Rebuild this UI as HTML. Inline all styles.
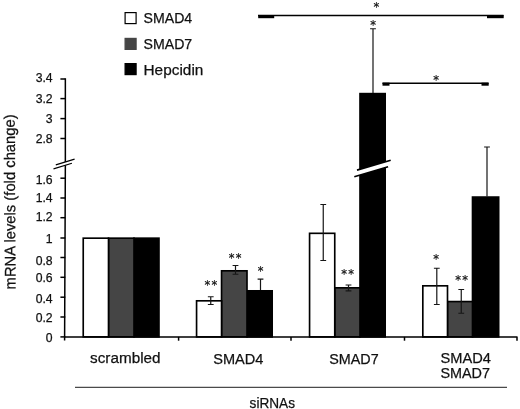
<!DOCTYPE html>
<html lang="en"><head><meta charset="utf-8"><title>mRNA levels (fold change) - siRNAs</title>
<style>html,body{margin:0;padding:0;background:#fff;}body{width:520px;height:409px;overflow:hidden;}svg{display:block;filter:grayscale(1);}text{font-family:"Liberation Sans", sans-serif;fill:#111;stroke:#111;stroke-width:0.25px;}.star{font-family:"DejaVu Sans", "Liberation Sans", sans-serif;fill:#111;stroke-width:0.2px;}</style></head><body>
<svg width="520" height="409" viewBox="0 0 520 409">
<rect x="0" y="0" width="520" height="409" fill="#fff"/>
<rect x="134.00" y="238.17" width="24.98" height="98.72" fill="#000" stroke="#000" stroke-width="1.65"/>
<rect x="108.50" y="238.17" width="25.50" height="98.72" fill="#454545" stroke="#000" stroke-width="1.65"/>
<rect x="83.23" y="238.17" width="25.27" height="98.72" fill="#fff" stroke="#000" stroke-width="1.65"/>
<rect x="247.00" y="290.82" width="25.18" height="46.07" fill="#000" stroke="#000" stroke-width="1.65"/>
<rect x="221.55" y="270.82" width="25.45" height="66.07" fill="#454545" stroke="#000" stroke-width="1.65"/>
<rect x="196.57" y="300.82" width="24.98" height="36.07" fill="#fff" stroke="#000" stroke-width="1.65"/>
<rect x="360.00" y="93.62" width="25.18" height="243.27" fill="#000" stroke="#000" stroke-width="1.65"/>
<rect x="334.75" y="287.82" width="25.25" height="49.07" fill="#454545" stroke="#000" stroke-width="1.65"/>
<rect x="309.57" y="233.32" width="25.18" height="103.57" fill="#fff" stroke="#000" stroke-width="1.65"/>
<rect x="472.50" y="197.07" width="26.18" height="139.82" fill="#000" stroke="#000" stroke-width="1.65"/>
<rect x="447.50" y="301.57" width="25.00" height="35.32" fill="#454545" stroke="#000" stroke-width="1.65"/>
<rect x="422.82" y="285.82" width="24.68" height="51.07" fill="#fff" stroke="#000" stroke-width="1.65"/>
<path d="M210.75 296.75V304.50M207.85 296.75H213.65M207.85 304.50H213.65" fill="none" stroke="#161616" stroke-width="1.2"/>
<path d="M235.50 265.50V274.25M232.60 265.50H238.40M232.60 274.25H238.40" fill="none" stroke="#161616" stroke-width="1.2"/>
<path d="M260.50 279.20V290.00M257.60 279.20H263.40" fill="none" stroke="#161616" stroke-width="1.2"/>
<path d="M323.25 204.50V260.50M320.35 204.50H326.15M320.35 260.50H326.15" fill="none" stroke="#161616" stroke-width="1.2"/>
<path d="M348.50 285.00V290.90M345.60 285.00H351.40M345.60 290.90H351.40" fill="none" stroke="#161616" stroke-width="1.2"/>
<path d="M373.00 28.75V93.00M370.10 28.75H375.90" fill="none" stroke="#161616" stroke-width="1.2"/>
<path d="M436.80 268.25V304.50M433.90 268.25H439.70M433.90 304.50H439.70" fill="none" stroke="#161616" stroke-width="1.2"/>
<path d="M461.25 289.50V313.25M458.35 289.50H464.15M458.35 313.25H464.15" fill="none" stroke="#161616" stroke-width="1.2"/>
<path d="M487.00 147.00V196.50M484.10 147.00H489.90" fill="none" stroke="#161616" stroke-width="1.2"/>
<polygon points="357,170.1 390.7,160.3 388.1,166.8 354.3,176.7" fill="#fff"/>
<path d="M357 170.1L390.7 160.3M354.3 176.7L388.1 166.8" stroke="#000" stroke-width="1.7" fill="none"/>
<path d="M65.35 78.2V162M65.35 164L64.6 340.50" stroke="#000" stroke-width="1.50" fill="none"/>
<path d="M63.95 336.90H517V340.70" stroke="#000" stroke-width="1.50" fill="none" stroke-linejoin="round"/>
<path d="M178.60 336.90V340.70" stroke="#000" stroke-width="1.5"/>
<path d="M291.00 336.90V340.70" stroke="#000" stroke-width="1.5"/>
<path d="M404.50 336.90V340.70" stroke="#000" stroke-width="1.5"/>
<path d="M60.4 79.00H65.3" stroke="#000" stroke-width="1.5"/>
<text x="52.6" y="82.20" font-size="12.2" text-anchor="end">3.4</text>
<path d="M60.4 98.60H65.3" stroke="#000" stroke-width="1.5"/>
<text x="52.6" y="103.40" font-size="12.2" text-anchor="end">3.2</text>
<path d="M60.4 118.60H65.3" stroke="#000" stroke-width="1.5"/>
<text x="52.6" y="122.90" font-size="12.2" text-anchor="end">3</text>
<path d="M60.4 138.50H65.3" stroke="#000" stroke-width="1.5"/>
<text x="52.6" y="142.80" font-size="12.2" text-anchor="end">2.8</text>
<path d="M60.4 178.20H65.3" stroke="#000" stroke-width="1.5"/>
<text x="52.6" y="184.00" font-size="12.2" text-anchor="end">1.6</text>
<path d="M60.4 198.00H65.3" stroke="#000" stroke-width="1.5"/>
<text x="52.6" y="202.30" font-size="12.2" text-anchor="end">1.4</text>
<path d="M60.4 217.70H65.3" stroke="#000" stroke-width="1.5"/>
<text x="52.6" y="221.40" font-size="12.2" text-anchor="end">1.2</text>
<path d="M60.4 238.00H65.3" stroke="#000" stroke-width="1.5"/>
<text x="52.6" y="243.10" font-size="12.2" text-anchor="end">1</text>
<path d="M60.4 257.50H65.3" stroke="#000" stroke-width="1.5"/>
<text x="52.6" y="264.70" font-size="12.2" text-anchor="end">0.8</text>
<path d="M60.4 277.30H65.3" stroke="#000" stroke-width="1.5"/>
<text x="52.6" y="282.40" font-size="12.2" text-anchor="end">0.6</text>
<path d="M60.4 297.20H65.3" stroke="#000" stroke-width="1.5"/>
<text x="52.6" y="302.75" font-size="12.2" text-anchor="end">0.4</text>
<path d="M60.4 317.00H65.3" stroke="#000" stroke-width="1.5"/>
<text x="52.6" y="322.05" font-size="12.2" text-anchor="end">0.2</text>
<path d="M60.4 336.90H65.3" stroke="#000" stroke-width="1.5"/>
<text x="52.6" y="342.00" font-size="12.2" text-anchor="end">0</text>
<polygon points="55.8,164.9 74.6,159.1 71.9,163.2 53.5,168.9" fill="#fff"/>
<path d="M55.8 164.9L74.6 159.1M53.5 168.9L71.9 163.2" stroke="#000" stroke-width="1.15" fill="none"/>
<text transform="translate(15.5 289.4) rotate(-90.23)" font-size="15.3" textLength="175.1" lengthAdjust="spacingAndGlyphs">mRNA levels (fold change)</text>
<rect x="125.1" y="12.60" width="11" height="11" fill="#fff" stroke="#000" stroke-width="1.2"/>
<rect x="125.1" y="38.40" width="11" height="11" fill="#454545" stroke="#454545" stroke-width="1.2"/>
<rect x="125.1" y="63.60" width="11" height="11" fill="#000" stroke="#000" stroke-width="1.2"/>
<text x="143.5" y="23.30" font-size="15.3" textLength="48.7" lengthAdjust="spacingAndGlyphs">SMAD4</text>
<text x="143.5" y="48.80" font-size="15.3" textLength="48.7" lengthAdjust="spacingAndGlyphs">SMAD7</text>
<text x="143.5" y="74.60" font-size="15.3" textLength="59.9" lengthAdjust="spacingAndGlyphs">Hepcidin</text>
<text x="90.1" y="363.3" font-size="15.3" textLength="70.4" lengthAdjust="spacingAndGlyphs">scrambled</text>
<text x="213.2" y="363.6" font-size="15.3" textLength="50.2" lengthAdjust="spacingAndGlyphs">SMAD4</text>
<text x="329.3" y="363.5" font-size="15.3" textLength="49.4" lengthAdjust="spacingAndGlyphs">SMAD7</text>
<text x="440.6" y="363.1" font-size="15.3" textLength="50.4" lengthAdjust="spacingAndGlyphs">SMAD4</text>
<text x="440.4" y="378.2" font-size="15.3" textLength="49.6" lengthAdjust="spacingAndGlyphs">SMAD7</text>
<path d="M75 387.45H507" stroke="#4a4a4a" stroke-width="1.25"/>
<text x="249.6" y="408.1" font-size="15.3" textLength="45.4" lengthAdjust="spacingAndGlyphs">siRNAs</text>
<path d="M258 15.6H503.5" stroke="#000" stroke-width="1.5"/>
<rect x="258.2" y="15.1" width="16" height="3.1" fill="#000"/>
<rect x="487" y="15.1" width="16.7" height="3.1" fill="#000"/>
<path d="M382.5 83.2H488.5" stroke="#000" stroke-width="1.5"/>
<rect x="382.5" y="82.7" width="7" height="3" fill="#000"/>
<rect x="481.5" y="82.7" width="7.2" height="3" fill="#000"/>
<text class="star" x="211.55" y="289.10" font-size="11.5" text-anchor="middle" letter-spacing="1.3">**</text>
<text class="star" x="235.85" y="262.20" font-size="11.5" text-anchor="middle" letter-spacing="1.3">**</text>
<text class="star" x="260.50" y="274.90" font-size="11.5" text-anchor="middle" letter-spacing="0.0">*</text>
<text class="star" x="348.35" y="278.10" font-size="11.5" text-anchor="middle" letter-spacing="1.3">**</text>
<text class="star" x="373.00" y="29.00" font-size="11.5" text-anchor="middle" letter-spacing="0.0">*</text>
<text class="star" x="436.10" y="262.80" font-size="11.5" text-anchor="middle" letter-spacing="0.0">*</text>
<text class="star" x="462.25" y="284.30" font-size="11.5" text-anchor="middle" letter-spacing="1.3">**</text>
<text class="star" x="376.25" y="11.00" font-size="11.5" text-anchor="middle" letter-spacing="0.0">*</text>
<text class="star" x="436.00" y="83.50" font-size="11.5" text-anchor="middle" letter-spacing="0.0">*</text>
</svg></body></html>
